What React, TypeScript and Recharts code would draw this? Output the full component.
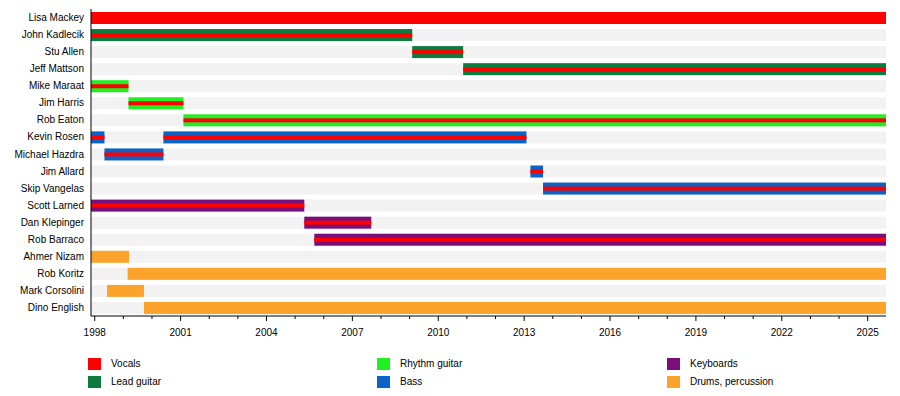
import { BarChart, Bar, XAxis, YAxis, Legend } from "recharts"

// timeline runs from just before 1998 to "now"
const START = 1997.87
const NOW = 2025.64

const members = [
  "Lisa Mackey",
  "John Kadlecik",
  "Stu Allen",
  "Jeff Mattson",
  "Mike Maraat",
  "Jim Harris",
  "Rob Eaton",
  "Kevin Rosen",
  "Michael Hazdra",
  "Jim Allard",
  "Skip Vangelas",
  "Scott Larned",
  "Dan Klepinger",
  "Rob Barraco",
  "Ahmer Nizam",
  "Rob Koritz",
  "Mark Corsolini",
  "Dino English",
]

const roles = [
  "Vocals",
  "Lead guitar",
  "Lead guitar",
  "Lead guitar",
  "Rhythm guitar",
  "Rhythm guitar",
  "Rhythm guitar",
  "Bass",
  "Bass",
  "Bass",
  "Bass",
  "Keyboards",
  "Keyboards",
  "Keyboards",
  "Drums, percussion",
  "Drums, percussion",
  "Drums, percussion",
  "Drums, percussion",
]

// members who also sing get a red stripe through their bar
const alsoVocals = [
  false, true, true, true, true, true, true, true, true,
  true, true, true, true, true, false, false, false, false,
]

const firstStart = [
  START, START, 2009.09, 2010.87, START, 1999.18, 2001.1, START, 1998.34,
  2013.22, 2013.66, START, 2005.32, 2005.67, START, 1999.15, 1998.43, 1999.72,
]
const firstEnd = [
  NOW, 2009.09, 2010.87, NOW, 1999.18, 2001.1, NOW, 1998.34, 2000.4,
  2013.66, NOW, 2005.32, 2007.66, NOW, 1999.2, NOW, 1999.72, NOW,
]
const secondStart: (number | null)[] = [
  null, null, null, null, null, null, null, 2000.4, null,
  null, null, null, null, null, null, null, null, null,
]
const secondEnd: (number | null)[] = [
  null, null, null, null, null, null, null, 2013.08, null,
  null, null, null, null, null, null, null, null, null,
]

const yearTicks = [
  1998, 1999, 2000, 2001, 2002, 2003, 2004, 2005, 2006, 2007, 2008, 2009, 2010, 2011,
  2012, 2013, 2014, 2015, 2016, 2017, 2018, 2019, 2020, 2021, 2022, 2023, 2024, 2025,
]
const labelledYears = [1998, 2001, 2004, 2007, 2010, 2013, 2016, 2019, 2022, 2025]

const legendLabels = ["Vocals", "Lead guitar", "Rhythm guitar", "Bass", "Keyboards", "Drums, percussion"]
const legendColors = ["#ff0000", "#0b7b3e", "#20f020", "#0c63c7", "#7b0f7a", "#fba32a"]

const roleColor: Record<string, string> = {}
legendLabels.forEach((l, i) => (roleColor[l] = legendColors[i]))

const data = members.map((name, i) => ({
  name,
  role: roles[i],
  vocals: alsoVocals[i],
  p1: [firstStart[i], firstEnd[i]],
  p2: secondStart[i] != null ? [secondStart[i], secondEnd[i]] : null,
}))

function segment(props: any, key: "p1" | "p2") {
  const { x, y, width, height, payload } = props
  if (!payload || !payload[key] || !(width > 0)) return <g />
  const color = roleColor[payload.role]
  const stripe = 4
  return (
    <g>
      <rect x={x} y={y} width={width} height={height} fill={color} />
      {payload.vocals && (
        <rect x={x} y={y + (height - stripe) / 2} width={width} height={stripe} fill="#ff0000" />
      )}
    </g>
  )
}

function YearTick(props: any) {
  const { x, y, payload } = props
  const major = labelledYears.includes(payload.value)
  return (
    <g>
      <line x1={x} x2={x} y1={y} y2={y + (major ? 5 : 3)} stroke="#000" />
      {major && (
        <text x={x} y={y + 16} dy="0.355em" textAnchor="middle" fontSize={10} fill="#000">
          {payload.value}
        </text>
      )}
    </g>
  )
}

function NameTick(props: any) {
  const { x, y, payload } = props
  return (
    <text x={x} y={y} dy="0.355em" textAnchor="end" fontSize={10} fill="#000">
      {payload.value}
    </text>
  )
}

const legendX = [88, 377, 667]

function TimelineLegend() {
  return (
    <div style={{ position: "relative", width: 900, height: 40, fontSize: 10, color: "#000" }}>
      {legendLabels.map((label, i) => {
        const left = legendX[Math.floor(i / 2)]
        const top = 6 + (i % 2) * 18
        return (
          <div key={label} style={{ position: "absolute", left, top, height: 12, display: "flex", alignItems: "center" }}>
            <span style={{ width: 13, height: 12, background: legendColors[i], display: "inline-block" }} />
            <span style={{ marginLeft: 10, lineHeight: "12px", whiteSpace: "nowrap" }}>{label}</span>
          </div>
        )
      })}
    </div>
  )
}

export default function App() {
  return (
    <div style={{ position: "absolute", left: 0, top: 0, width: 900, height: 396, background: "#fff", fontFamily: "'Liberation Sans', Arial, sans-serif" }}>
      <BarChart
        width={900}
        height={396}
        data={data}
        layout="vertical"
        barSize={12}
        barGap={-12}
        margin={{ top: 9, right: 14, left: 0, bottom: 0 }}
      >
        <XAxis
          type="number"
          domain={[START, NOW]}
          allowDataOverflow
          ticks={yearTicks}
          interval={0}
          height={80}
          tickSize={0}
          tickMargin={0}
          tickLine={false}
          axisLine={{ stroke: "#000" }}
          tick={<YearTick />}
        />
        <YAxis
          type="category"
          dataKey="name"
          width={91}
          interval={0}
          tickSize={0}
          tickMargin={7}
          tickLine={false}
          axisLine={{ stroke: "#000" }}
          tick={<NameTick />}
        />
        <Legend
          layout="horizontal"
          verticalAlign="middle"
          align="center"
          wrapperStyle={{ top: 352, left: 0, width: 900, height: 40 }}
          content={() => <TimelineLegend />}
        />
        <Bar
          dataKey="p1"
          isAnimationActive={false}
          background={{ fill: "#f2f2f2" }}
          shape={(p: any) => segment(p, "p1")}
        />
        <Bar dataKey="p2" isAnimationActive={false} shape={(p: any) => segment(p, "p2")} />
      </BarChart>
    </div>
  )
}
